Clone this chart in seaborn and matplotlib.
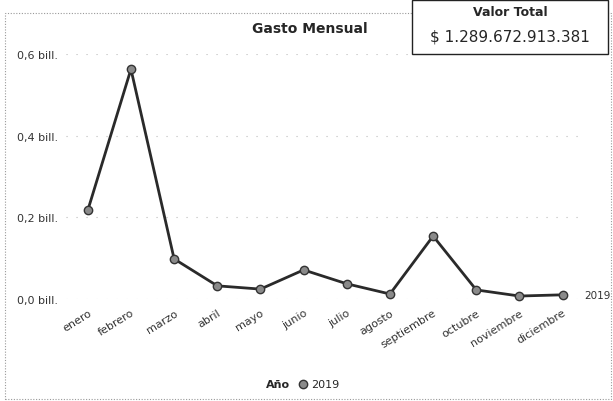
import numpy as np
import pandas as pd
import matplotlib
matplotlib.use("Agg")
import matplotlib.pyplot as plt
import seaborn as sns
from matplotlib.patches import Rectangle

# Datos (billones de pesos)
meses = ["enero", "febrero", "marzo", "abril", "mayo", "junio", "julio",
         "agosto", "septiembre", "octubre", "noviembre", "diciembre"]
gasto = [0.217, 0.563, 0.098, 0.032, 0.024, 0.071, 0.037, 0.012,
         0.154, 0.022, 0.007, 0.010]
anio = "2019"
valor_total = "$ 1.289.672.913.381"
ticks_y = [0.0, 0.2, 0.4, 0.6]
etiquetas_y = ["0,0 bill.", "0,2 bill.", "0,4 bill.", "0,6 bill."]

df = pd.DataFrame({"Mes": meses, "Gasto": gasto, "Año": anio})

sns.set_style("white")
plt.rcParams["font.family"] = ["DejaVu Sans"]

fig = plt.figure(figsize=(6.13, 4.02), dpi=100)

# borde punteado del gráfico
fig.patches.append(Rectangle((0.008, 0.004), 0.988, 0.962, transform=fig.transFigure,
                             fill=False, edgecolor="#999999", linewidth=0.8,
                             linestyle=(0, (1, 1.5)), zorder=0))

ax = fig.add_axes([0.108, 0.254, 0.845, 0.609])
ax.patch.set_alpha(0)

sns.lineplot(data=df, x="Mes", y="Gasto", color="#2a2a2a", linewidth=2,
             marker="o", markersize=6, markerfacecolor="#8a8a8a",
             markeredgecolor="#333333", markeredgewidth=1, sort=False,
             ax=ax, clip_on=False, legend=False)

ax.set_xlim(-0.5, len(meses) - 0.5)
ax.set_ylim(0, 0.6)
ax.set_yticks(ticks_y)
ax.set_yticklabels(etiquetas_y, fontsize=8, color="#333333")
ax.set_xticks(range(len(meses)))
ax.set_xticklabels(meses, rotation=32, ha="right", rotation_mode="anchor",
                   fontsize=8, color="#333333")
ax.tick_params(axis="both", length=0, pad=6)
ax.set_xlabel("")
ax.set_ylabel("")
ax.grid(axis="y", color="#bbbbbb", linestyle=(0, (1, 8)), linewidth=0.8)
for s in ax.spines.values():
    s.set_visible(False)

# etiqueta de serie al final de la línea
ax.text(len(meses) - 0.5, gasto[-1], anio, fontsize=7.5, va="center",
        color="#333333")

fig.text(0.505, 0.928, "Gasto Mensual", ha="center", va="center",
         fontsize=10, fontweight="bold")

# caja de valor total
fig.patches.append(Rectangle((0.672, 0.862), 0.32, 0.136, transform=fig.transFigure,
                             facecolor="white", edgecolor="#222222", linewidth=1,
                             zorder=3))
fig.text(0.832, 0.97, "Valor Total", ha="center", va="center",
         fontsize=9, fontweight="bold", zorder=4)
fig.text(0.832, 0.907, valor_total, ha="center", va="center", fontsize=11,
         zorder=4)

# leyenda
fig.text(0.473, 0.043, "Año", ha="right", va="center", fontsize=8,
         fontweight="bold")
fig.lines.append(plt.Line2D([0.495], [0.043], transform=fig.transFigure,
                            marker="o", markersize=6, markerfacecolor="#8a8a8a",
                            markeredgecolor="#333333", linestyle="none"))
fig.text(0.508, 0.043, anio, ha="left", va="center", fontsize=8)

fig.savefig("out.png", dpi=100)
